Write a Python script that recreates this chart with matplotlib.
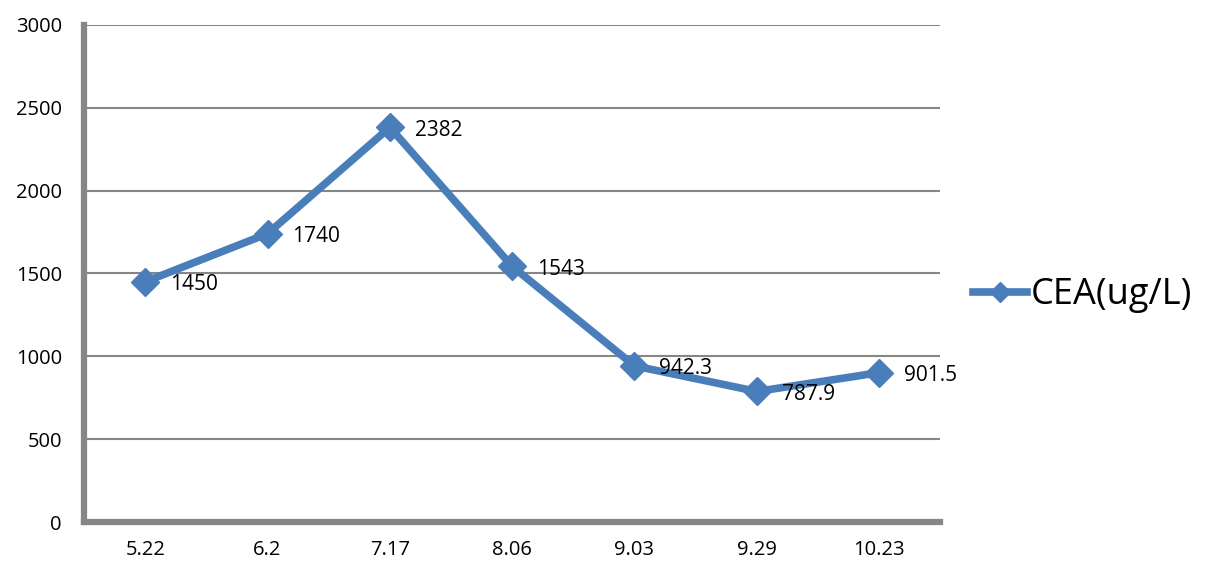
import matplotlib.pyplot as plt

plt.rcParams['font.family'] = ['Open Sans', 'DejaVu Sans']

dates = ['5.22', '6.2', '7.17', '8.06', '9.03', '9.29', '10.23']
cea = [1450, 1740, 2382, 1543, 942.3, 787.9, 901.5]
cea_labels = ['1450', '1740', '2382', '1543', '942.3', '787.9', '901.5']

blue = '#4a7ebb'
gray = '#868686'

fig = plt.figure(figsize=(12.18, 5.79), dpi=100)
ax = fig.add_axes([0.069, 0.0984, 0.703, 0.8586])

x = list(range(len(dates)))
ax.plot(x, cea, color=blue, linewidth=5.5, marker='D', markersize=14,
        label='CEA(ug/L)', solid_joinstyle='miter')

for xi, yi, lab in zip(x, cea, cea_labels):
    ax.annotate(lab, (xi, yi), xytext=(18, -2), textcoords='offset points',
                ha='left', va='center', fontsize=15)

ax.set_xlim(-0.5, len(dates) - 0.5)
ax.set_ylim(0, 3000)
ax.set_yticks(range(0, 3001, 500))
ax.set_xticks(x)
ax.set_xticklabels(dates)
ax.tick_params(axis='both', length=0, labelsize=14.5)
ax.tick_params(axis='y', pad=16)
ax.tick_params(axis='x', pad=13)

ax.grid(axis='y', color=gray, linewidth=1.5)
ax.set_axisbelow(True)
for s in ['top', 'right']:
    ax.spines[s].set_visible(False)
ax.spines['left'].set_color(gray)
ax.spines['left'].set_linewidth(4.5)
ax.spines['bottom'].set_color(gray)
ax.spines['bottom'].set_linewidth(4.5)

fig.legend(loc='center left', bbox_to_anchor=(0.772, 0.49), frameon=False,
           fontsize=26, handlelength=1.5, handletextpad=0.1, markerscale=0.7)

fig.savefig('out.png', dpi=100)
